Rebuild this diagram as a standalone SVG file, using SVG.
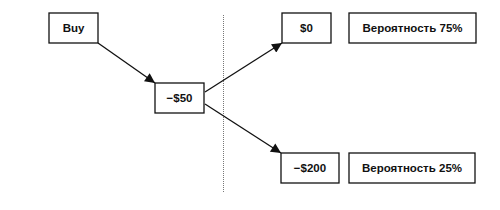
<svg xmlns="http://www.w3.org/2000/svg" width="500" height="210" viewBox="0 0 500 210">
<style>
.box{fill:#fff;stroke:#111;stroke-width:1.3}
.t{font-family:"Liberation Sans",Arial,sans-serif;font-size:11.5px;font-weight:bold;fill:#111;text-anchor:middle}
.c{stroke:#111;stroke-width:1.3;fill:none;marker-end:url(#ah)}
</style>
<defs>
<marker id="ah" viewBox="0 0 10 10" refX="10" refY="5" markerWidth="11" markerHeight="10" markerUnits="userSpaceOnUse" orient="auto">
<path d="M0,0 L10,5 L0,10 z" fill="#111"/>
</marker>
</defs>
<line x1="223.5" y1="15" x2="223.5" y2="193" stroke="#777" stroke-width="1" stroke-dasharray="1,1"/>
<g id="connectors">
<path class="c" d="M98,43 L155,83"/>
<path class="c" d="M205,92 L282,43"/>
<path class="c" d="M205,104 L281,153"/>
</g>
<g id="buy"><rect class="box" x="49" y="13" width="49" height="30"/><text class="t" x="73.5" y="32">Buy</text></g>
<g id="minus50"><rect class="box" x="155" y="83" width="49" height="30"/><text class="t" x="179.5" y="102">−$50</text></g>
<g id="zero"><rect class="box" x="282" y="13" width="49" height="30"/><text class="t" x="306.5" y="32">$0</text></g>
<g id="p75"><rect class="box" x="349" y="13" width="127" height="30"/><text class="t" x="412.5" y="32">Вероятность 75%</text></g>
<g id="minus200"><rect class="box" x="281" y="153" width="58" height="30"/><text class="t" x="310" y="172">−$200</text></g>
<g id="p25"><rect class="box" x="349" y="153" width="126" height="30"/><text class="t" x="412" y="172">Вероятность 25%</text></g>
</svg>
